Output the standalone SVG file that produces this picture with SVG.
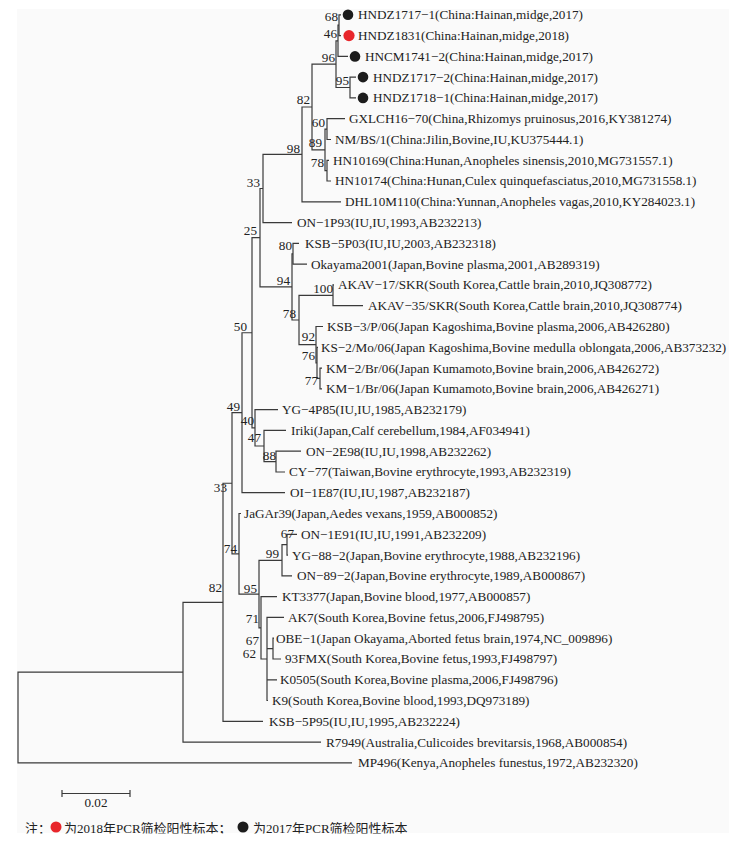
<svg xmlns="http://www.w3.org/2000/svg" width="740" height="841" viewBox="0 0 740 841">
<defs>
<style>
.br{fill:none;stroke:#3a3a3a;stroke-width:1.2}
.lf{font-family:"Liberation Serif","Times New Roman",serif;font-size:13.2px;fill:#222}
.bs{font-family:"Liberation Serif","Times New Roman",serif;font-size:13.2px;fill:#222;text-anchor:end}
.cj{font-family:"Liberation Serif","Noto Sans CJK SC",serif;font-size:13px;fill:#222}
.dk{fill:#1c1c1c}
.rd{fill:#e8262b}
</style>
<clipPath id="clipL"><rect x="0" y="0" width="740" height="833.5"/></clipPath>
</defs>
<rect x="17" y="9" width="712" height="824" fill="#fafafa"/>
<g id="connectors" class="br">
<path d="M341 14.8H339V35.6H341"/>
<path d="M339 25.2H338V56.4H348"/>
<path d="M356 77.1H350V97.9H356"/>
<path d="M338 40.8H336V87.5H350"/>
<path d="M345 118.7H327V139.5H331"/>
<path d="M329 160.3H327V181H331"/>
<path d="M327 129.1H325V170.65H327"/>
<path d="M336 64.15H312V149.9H325"/>
<path d="M312 107H302V201.8H341"/>
<path d="M302 154.4H263V222.6H292"/>
<path d="M299 243.4H293V264.2H307"/>
<path d="M334 284.9H333V305.7H363"/>
<path d="M322 368.1H320V388.8H322"/>
<path d="M318 347.3H317V378.45H320"/>
<path d="M323 326.5H316V362.9H317"/>
<path d="M333 295.3H299V344.7H316"/>
<path d="M293 253.8H292V320H299"/>
<path d="M263 188.5H260V286.9H292"/>
<path d="M301 451.2H276V472H285"/>
<path d="M286 430.4H264V461.6H276"/>
<path d="M278 409.6H255V446H264"/>
<path d="M260 237.7H252V427.8H255"/>
<path d="M252 332.75H242V492.7H285"/>
<path d="M297 534.3H287V555.1H288"/>
<path d="M287 544.7H282V575.9H292"/>
<path d="M274 638.2H273V659H281"/>
<path d="M284 617.4H267V700.5H268M267 648.6H273M267 679.8H277"/>
<path d="M277 596.6H261V659H267"/>
<path d="M282 560.3H259V627.8H261"/>
<path d="M241 513.5H239V594.05H259"/>
<path d="M242 412.7H232V553.8H239"/>
<path d="M232 483.25H223V721.3H263"/>
<path d="M223 602.3H183V742.1H321"/>
<path d="M183 672.2H18V762.9H352"/>
</g>
<g id="leaf-HNDZ1717-1"><circle class="dk" cx="348" cy="14.8" r="5.3"/><text class="lf" x="358" y="19.2">HNDZ1717−1(China:Hainan,midge,2017)</text></g>
<g id="leaf-HNDZ1831"><circle class="rd" cx="349" cy="35.6" r="5.6"/><text class="lf" x="358" y="40">HNDZ1831(China:Hainan,midge,2018)</text></g>
<g id="leaf-HNCM1741-2"><circle class="dk" cx="355" cy="56.4" r="5.3"/><text class="lf" x="365" y="60.8">HNCM1741−2(China:Hainan,midge,2017)</text></g>
<g id="leaf-HNDZ1717-2"><circle class="dk" cx="363" cy="77.1" r="5.3"/><text class="lf" x="373" y="81.5">HNDZ1717−2(China:Hainan,midge,2017)</text></g>
<g id="leaf-HNDZ1718-1"><circle class="dk" cx="363" cy="97.9" r="5.3"/><text class="lf" x="373" y="102.3">HNDZ1718−1(China:Hainan,midge,2017)</text></g>
<g id="leaf-GXLCH16-70"><text class="lf" x="349" y="123.1">GXLCH16−70(China,Rhizomys pruinosus,2016,KY381274)</text></g>
<g id="leaf-NM-BS-1"><text class="lf" x="335" y="143.9">NM/BS/1(China:Jilin,Bovine,IU,KU375444.1)</text></g>
<g id="leaf-HN10169"><text class="lf" x="333" y="164.7">HN10169(China:Hunan,Anopheles sinensis,2010,MG731557.1)</text></g>
<g id="leaf-HN10174"><text class="lf" x="335" y="185.4">HN10174(China:Hunan,Culex quinquefasciatus,2010,MG731558.1)</text></g>
<g id="leaf-DHL10M110"><text class="lf" x="345" y="206.2">DHL10M110(China:Yunnan,Anopheles vagas,2010,KY284023.1)</text></g>
<g id="leaf-ON-1P93"><text class="lf" x="297" y="227">ON−1P93(IU,IU,1993,AB232213)</text></g>
<g id="leaf-KSB-5P03"><text class="lf" x="305" y="247.8">KSB−5P03(IU,IU,2003,AB232318)</text></g>
<g id="leaf-Okayama2001"><text class="lf" x="311" y="268.6">Okayama2001(Japan,Bovine plasma,2001,AB289319)</text></g>
<g id="leaf-AKAV-17"><text class="lf" x="338" y="289.3">AKAV−17/SKR(South Korea,Cattle brain,2010,JQ308772)</text></g>
<g id="leaf-AKAV-35"><text class="lf" x="368" y="310.1">AKAV−35/SKR(South Korea,Cattle brain,2010,JQ308774)</text></g>
<g id="leaf-KSB-3-P-06"><text class="lf" x="327" y="330.9">KSB−3/P/06(Japan Kagoshima,Bovine plasma,2006,AB426280)</text></g>
<g id="leaf-KS-2-Mo-06"><text class="lf" x="321" y="351.7">KS−2/Mo/06(Japan Kagoshima,Bovine medulla oblongata,2006,AB373232)</text></g>
<g id="leaf-KM-2-Br-06"><text class="lf" x="326" y="372.5">KM−2/Br/06(Japan Kumamoto,Bovine brain,2006,AB426272)</text></g>
<g id="leaf-KM-1-Br-06"><text class="lf" x="326" y="393.2">KM−1/Br/06(Japan Kumamoto,Bovine brain,2006,AB426271)</text></g>
<g id="leaf-YG-4P85"><text class="lf" x="282" y="414">YG−4P85(IU,IU,1985,AB232179)</text></g>
<g id="leaf-Iriki"><text class="lf" x="291" y="434.8">Iriki(Japan,Calf cerebellum,1984,AF034941)</text></g>
<g id="leaf-ON-2E98"><text class="lf" x="306" y="455.6">ON−2E98(IU,IU,1998,AB232262)</text></g>
<g id="leaf-CY-77"><text class="lf" x="289" y="476.4">CY−77(Taiwan,Bovine erythrocyte,1993,AB232319)</text></g>
<g id="leaf-OI-1E87"><text class="lf" x="290" y="497.1">OI−1E87(IU,IU,1987,AB232187)</text></g>
<g id="leaf-JaGAr39"><text class="lf" x="244" y="517.9">JaGAr39(Japan,Aedes vexans,1959,AB000852)</text></g>
<g id="leaf-ON-1E91"><text class="lf" x="301" y="538.7">ON−1E91(IU,IU,1991,AB232209)</text></g>
<g id="leaf-YG-88-2"><text class="lf" x="292" y="559.5">YG−88−2(Japan,Bovine erythrocyte,1988,AB232196)</text></g>
<g id="leaf-ON-89-2"><text class="lf" x="297" y="580.3">ON−89−2(Japan,Bovine erythrocyte,1989,AB000867)</text></g>
<g id="leaf-KT3377"><text class="lf" x="282" y="601">KT3377(Japan,Bovine blood,1977,AB000857)</text></g>
<g id="leaf-AK7"><text class="lf" x="288" y="621.8">AK7(South Korea,Bovine fetus,2006,FJ498795)</text></g>
<g id="leaf-OBE-1"><text class="lf" x="276" y="642.6">OBE−1(Japan Okayama,Aborted fetus brain,1974,NC_009896)</text></g>
<g id="leaf-93FMX"><text class="lf" x="285" y="663.4">93FMX(South Korea,Bovine fetus,1993,FJ498797)</text></g>
<g id="leaf-K0505"><text class="lf" x="280" y="684.2">K0505(South Korea,Bovine plasma,2006,FJ498796)</text></g>
<g id="leaf-K9"><text class="lf" x="272" y="704.9">K9(South Korea,Bovine blood,1993,DQ973189)</text></g>
<g id="leaf-KSB-5P95"><text class="lf" x="269" y="725.7">KSB−5P95(IU,IU,1995,AB232224)</text></g>
<g id="leaf-R7949"><text class="lf" x="326" y="746.5">R7949(Australia,Culicoides brevitarsis,1968,AB000854)</text></g>
<g id="leaf-MP496"><text class="lf" x="358" y="767.3">MP496(Kenya,Anopheles funestus,1972,AB232320)</text></g>
<g id="bootstrap">
<text class="bs" x="338" y="21">68</text>
<text class="bs" x="337" y="38">46</text>
<text class="bs" x="335" y="62">96</text>
<text class="bs" x="349" y="85">95</text>
<text class="bs" x="310" y="104">82</text>
<text class="bs" x="325" y="127">60</text>
<text class="bs" x="322" y="147">89</text>
<text class="bs" x="324" y="167">78</text>
<text class="bs" x="300" y="153">98</text>
<text class="bs" x="260" y="187">33</text>
<text class="bs" x="257" y="235">25</text>
<text class="bs" x="292" y="250">80</text>
<text class="bs" x="290" y="285">94</text>
<text class="bs" x="333" y="293">100</text>
<text class="bs" x="296" y="318">78</text>
<text class="bs" x="247" y="331">50</text>
<text class="bs" x="315" y="341">92</text>
<text class="bs" x="315" y="360">76</text>
<text class="bs" x="318" y="385">77</text>
<text class="bs" x="240" y="411">49</text>
<text class="bs" x="254" y="425">40</text>
<text class="bs" x="261" y="442">47</text>
<text class="bs" x="276" y="460">88</text>
<text class="bs" x="227" y="492">33</text>
<text class="bs" x="237" y="553">74</text>
<text class="bs" x="294" y="538">67</text>
<text class="bs" x="279" y="558">99</text>
<text class="bs" x="257" y="593">95</text>
<text class="bs" x="222" y="592">82</text>
<text class="bs" x="259" y="623">71</text>
<text class="bs" x="259" y="644.5">67</text>
<text class="bs" x="256" y="658">62</text>
</g>
<g id="scale-bar">
<path class="br" d="M62 793.5H130M62 790V797M130 790V797"/>
<text class="lf" x="96" y="807" text-anchor="middle">0.02</text>
</g>
<g id="legend" clip-path="url(#clipL)">
<text class="cj" x="25" y="833">注：</text>
<circle class="rd" cx="56" cy="827" r="5.5"/>
<text class="cj" x="64" y="833">为2018年PCR筛检阳性标本；</text>
<circle class="dk" cx="243" cy="827" r="5.5"/>
<text class="cj" x="253" y="833">为2017年PCR筛检阳性标本</text>
</g>
</svg>
